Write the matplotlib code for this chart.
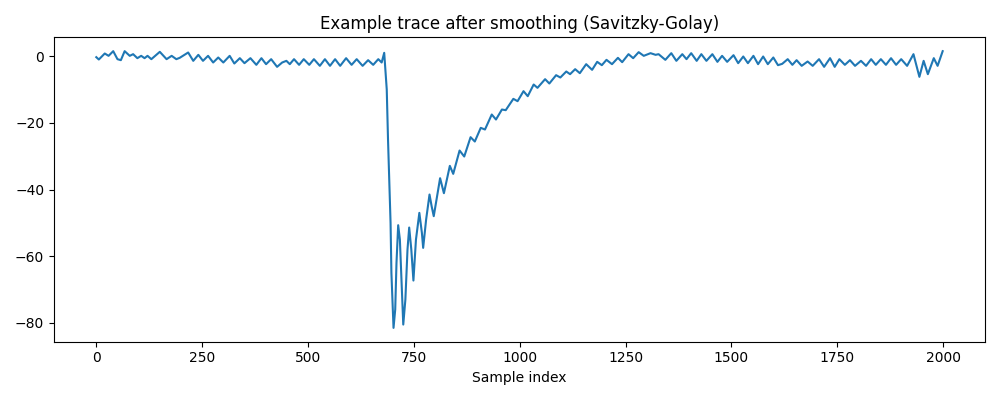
import matplotlib
matplotlib.use("Agg")
import matplotlib.pyplot as plt

# trace: sample index and smoothed value at peaks / troughs
sample_idx = [
    0, 6, 20, 29, 40, 50, 58, 67, 79, 87, 97, 106, 114, 121, 130, 150, 166, 178,
    189, 197, 217, 229, 241, 252, 264, 276, 288, 300, 315, 326, 339,
    350, 364, 378, 390, 401, 413, 427, 439, 449, 457, 467, 479, 490, 503, 514,
    528, 540, 552, 564, 576, 590, 603, 615, 629, 642, 654, 666, 674, 680,
    686, 689, 695, 697, 700, 702, 706, 709, 713, 717, 721, 725, 730, 735, 739,
    744, 749, 755, 763, 769, 772, 779, 787, 792, 797, 812, 821, 835, 843, 858,
    869, 884, 894, 908, 918, 934, 944, 958, 967, 985, 995, 1009, 1019, 1033,
    1042, 1060, 1070, 1086, 1096, 1110, 1119, 1131, 1142, 1157, 1171, 1183,
    1194, 1205, 1218, 1232, 1242, 1257, 1268, 1281, 1293, 1309, 1321, 1328,
    1344, 1358, 1370, 1384, 1394, 1405, 1418, 1429, 1441, 1455, 1467, 1478,
    1490, 1505, 1516, 1528, 1539, 1552, 1563, 1575, 1586, 1599, 1610, 1620,
    1633, 1644, 1654, 1666, 1680, 1692, 1707, 1719, 1733, 1744, 1755, 1768,
    1780, 1792, 1806, 1818, 1830, 1841, 1853, 1865, 1877, 1889, 1901, 1915,
    1930, 1944, 1954, 1964, 1978, 1987, 1999,
]
trace = [
    -0.3, -1.0, 0.8, 0.1, 1.5, -0.9, -1.2, 1.5, 0.1, 0.6, -0.6, 0.1, -0.6, 0.1,
    -0.9, 1.3, -0.9, 0.1, -0.9, -0.5, 1.1, -1.4, 0.4, -1.4, 0.1, -1.9, -0.4,
    -1.9, 0.1, -2.2, -0.6,
    -2.1, -0.6, -2.6, -0.6, -2.4, -0.9, -3.2, -1.9, -1.4, -2.4, -0.9, -2.6,
    -0.9, -2.6, -0.9, -2.9, -0.9, -2.9, -0.9, -2.9, -0.6, -2.6, -0.9, -2.9,
    -1.2, -2.6, -0.9, -1.9, 1.0,
    -10.0, -25.0, -50.0, -65.0, -75.0, -81.5, -76.0, -62.0, -50.7, -55.0,
    -68.0, -80.5, -73.0, -58.0, -51.4, -58.0, -67.3, -55.0, -47.0, -53.0,
    -57.5, -49.0, -41.5, -45.0, -48.0, -36.6, -41.1, -32.9, -35.3, -28.3,
    -30.1, -24.3, -25.6, -21.5, -22.0, -17.5, -19.0, -16.0, -16.2, -12.8,
    -13.5, -10.5, -12.0, -8.5, -9.5, -6.9, -8.2, -5.7, -6.4, -4.6, -5.4,
    -3.9, -5.1, -2.4, -4.1, -1.7,
    -2.7, -1.1, -2.4, -0.5, -1.8, 0.6, -0.6, 1.2, 0.1, 0.9, 0.4, 0.6,
    -1.1, 0.9, -1.4, 0.6, -0.9, 0.9, -1.4, 0.6, -1.4, 0.6, -1.7, 0.1,
    -1.7, 0.3, -2.1, -0.1, -2.1, 0.1, -2.4, -0.1, -2.4, -0.4, -2.7, -2.3,
    -0.9, -2.6, -1.2, -2.9, -1.6, -2.9, -0.9, -3.2, -0.6, -3.2, -0.9, -2.6,
    -1.2, -2.9, -1.4, -2.9, -0.9, -2.6, -0.9, -2.6, -0.6, -2.6, -0.9, -2.9,
    0.6, -6.2, -1.4, -5.4, -0.6, -2.9, 1.5,
]

plt.figure(figsize=(10, 4), dpi=100)
plt.plot(sample_idx, trace, color="#1f77b4", linewidth=1.5)
plt.title("Example trace after smoothing (Savitzky-Golay)")
plt.xlabel("Sample index")
plt.xticks([0, 250, 500, 750, 1000, 1250, 1500, 1750, 2000])
plt.tight_layout()
plt.savefig("out.png", dpi=100)
plt.close()
